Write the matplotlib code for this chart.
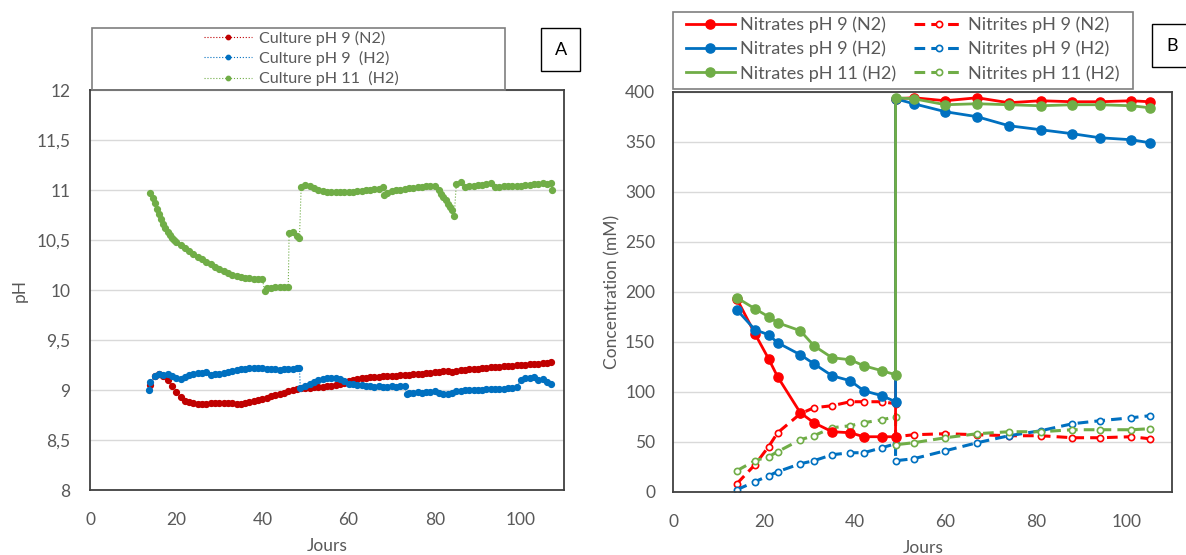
import matplotlib
matplotlib.use('Agg')
from matplotlib import pyplot as plt
from matplotlib.patches import Rectangle
from matplotlib.ticker import FuncFormatter, MultipleLocator

plt.rcParams['font.family'] = ['Lato', 'DejaVu Sans']

GREY = '#595959'
RED = '#FF0000'
DARK_RED = '#C00000'
BLUE = '#0070C0'
GREEN = '#70AD47'

# ---- panel A : pH follow-up ----
ph_labels = ['Culture pH 9 (N2)', 'Culture pH 9  (H2)', 'Culture pH 11  (H2)']

red_days = list(range(14, 108))
red_ph = [9.05, 9.14, 9.16, 9.14, 9.10, 9.04, 8.98, 8.93, 8.89, 8.88,
          8.87, 8.86, 8.86, 8.86, 8.87, 8.87, 8.87, 8.87, 8.87, 8.87,
          8.86, 8.86, 8.87, 8.88, 8.89, 8.90, 8.91, 8.92, 8.94, 8.95,
          8.96, 8.97, 8.99, 9.00, 9.01, 9.02, 9.02, 9.02, 9.03, 9.03,
          9.03, 9.04, 9.04, 9.05, 9.06, 9.07, 9.09, 9.10, 9.11, 9.12,
          9.12, 9.13, 9.13, 9.13, 9.14, 9.14, 9.14, 9.14, 9.15, 9.15,
          9.15, 9.16, 9.16, 9.16, 9.17, 9.17, 9.18, 9.18, 9.19, 9.19,
          9.18, 9.19, 9.20, 9.20, 9.21, 9.21, 9.21, 9.22, 9.22, 9.23,
          9.23, 9.23, 9.24, 9.24, 9.24, 9.25, 9.25, 9.25, 9.26, 9.26,
          9.26, 9.27, 9.27, 9.28]

blue_days = [13.8, 14, 15, 16, 17, 18, 19, 20, 21, 22, 23, 24, 25, 26, 27,
             28, 29, 30, 31, 32, 33, 34, 35, 36, 37, 38, 39, 40, 41, 42,
             43, 44, 45, 46, 47, 48, 48.6, 48.8, 50, 51, 52, 53, 54, 55,
             56, 57, 58, 59, 60, 61, 62, 63, 64, 65, 66, 67, 68, 69, 70,
             71, 72, 73, 73.5, 74, 75, 76, 77, 78, 79, 80, 81, 82, 83, 84,
             85, 86, 87, 88, 89, 90, 91, 92, 93, 94, 95, 96, 97, 98, 99,
             100, 101, 102, 103, 104, 105, 106, 107]
blue_ph = [9.00, 9.08, 9.14, 9.16, 9.15, 9.16, 9.14, 9.12, 9.11, 9.13, 9.15,
           9.16, 9.17, 9.17, 9.18, 9.15, 9.16, 9.16, 9.17, 9.18, 9.19, 9.20,
           9.21, 9.21, 9.22, 9.22, 9.22, 9.22, 9.21, 9.21, 9.21, 9.20, 9.21,
           9.21, 9.21, 9.22, 9.22, 9.02, 9.04, 9.06, 9.08, 9.10, 9.11, 9.12,
           9.12, 9.12, 9.11, 9.09, 9.06, 9.06, 9.05, 9.05, 9.04, 9.04, 9.03,
           9.04, 9.03, 9.03, 9.04, 9.03, 9.04, 9.04, 8.96, 8.97, 8.97, 8.98,
           8.97, 8.98, 8.98, 8.99, 8.97, 8.96, 8.96, 8.97, 8.99, 8.99, 9.00,
           9.00, 9.00, 9.00, 9.00, 9.01, 9.01, 9.01, 9.01, 9.01, 9.02, 9.02,
           9.03, 9.10, 9.12, 9.12, 9.13, 9.10, 9.11, 9.08, 9.06]

green_days = [14, 14.5, 15, 15.5, 16, 16.5, 17, 17.5, 18, 18.5, 19, 19.5,
              20, 21, 22, 23, 24, 25, 26, 27, 28,
              29, 30, 31, 32, 33, 34, 35, 36, 37, 38, 39, 40, 40.5, 41, 42,
              43, 44, 45, 46, 46.2, 47, 48, 48.6, 49, 50, 51, 52, 53, 54,
              55, 56, 57, 58, 59, 60, 61, 62, 63, 64, 65, 66, 67, 68, 68.2,
              69, 70, 71, 72, 73, 74, 75, 76, 77, 78, 79, 80, 81, 81.5, 82,
              82.5, 83, 83.5, 84, 84.5, 85, 86, 87, 88, 89, 90, 91, 92, 93,
              94, 95, 96, 97, 98, 99, 100, 101, 102, 103, 104, 105, 106,
              107, 107.3]
green_ph = [10.97, 10.92, 10.87, 10.81, 10.76, 10.71, 10.66, 10.62, 10.58,
            10.55, 10.52, 10.50, 10.48, 10.45, 10.42,
            10.39, 10.36, 10.33, 10.31, 10.28, 10.26, 10.23, 10.21, 10.19,
            10.17, 10.15, 10.14, 10.13, 10.12, 10.12, 10.11, 10.11, 10.11,
            9.99, 10.02, 10.02, 10.03, 10.03, 10.03, 10.03, 10.57, 10.58,
            10.54, 10.52, 11.03, 11.05, 11.04, 11.02, 11.00, 10.99, 10.98,
            10.98, 10.98, 10.98, 10.98, 10.98, 10.98, 10.99, 10.99, 11.00,
            11.00, 11.01, 11.01, 11.03, 10.95, 10.97, 10.99, 11.00, 11.00,
            11.01, 11.02, 11.02, 11.03, 11.03, 11.04, 11.04, 11.04, 11.00,
            10.96, 10.93, 10.90, 10.86, 10.83, 10.80, 10.74, 11.06, 11.08,
            11.03, 11.04, 11.04, 11.05, 11.05, 11.06, 11.07, 11.03, 11.03,
            11.04, 11.04, 11.04, 11.04, 11.04, 11.05, 11.05, 11.06, 11.06,
            11.07, 11.06, 11.07, 11.00]

# ---- panel B : nitrates / nitrites ----
sample_days = [14, 18, 21, 23, 28, 31, 35, 39, 42, 46, 49,
               49, 53, 60, 67, 74, 81, 88, 94, 101, 105]

nitrates_n2 = [193, 158, 133, 115, 79, 69, 60, 59, 55, 55, 55,
               393, 394, 391, 394, 389, 391, 390, 390, 391, 390]
nitrates_h2 = [182, 162, 157, 149, 137, 128, 116, 111, 101, 96, 90,
               393, 388, 380, 375, 366, 362, 358, 354, 352, 349]
nitrates_ph11 = [194, 183, 175, 169, 161, 146, 134, 132, 126, 121, 117,
                 394, 393, 387, 388, 387, 386, 387, 387, 386, 384]
nitrites_n2 = [8, 27, 45, 59, 78, 84, 86, 90, 90, 90, 88,
               55, 57, 58, 57, 56, 56, 54, 54, 55, 53]
nitrites_h2 = [2, 10, 16, 20, 28, 31, 37, 39, 39, 44, 48,
               31, 33, 41, 49, 56, 61, 68, 71, 74, 76]
nitrites_ph11 = [21, 31, 35, 40, 52, 56, 64, 66, 69, 72, 75,
                 47, 49, 54, 58, 60, 60, 62, 62, 62, 63]


def comma(v, pos):
    return ('%g' % v).replace('.', ',')


def style_axes(ax):
    ax.set_xlim(0, 110)
    ax.xaxis.set_major_locator(MultipleLocator(20))
    ax.grid(axis='y', color='#D9D9D9', lw=1)
    ax.set_axisbelow(True)
    ax.tick_params(length=0, labelsize=12.5, labelcolor=GREY)
    ax.tick_params(axis='x', pad=16)
    for s in ax.spines.values():
        s.set_color('#404040')
        s.set_linewidth(1.3)
    ax.set_xlabel('Jours', fontsize=12.5, color=GREY, labelpad=7)


def plot_ph(ax):
    for d, v, c, lab in zip([red_days, blue_days, green_days],
                            [red_ph, blue_ph, green_ph],
                            [DARK_RED, BLUE, GREEN], ph_labels):
        ax.plot(d, v, ls=':', lw=0.8, color=c, marker='o', ms=4.2,
                mec=c, mfc=c, label=lab)
    style_axes(ax)
    ax.set_ylim(8, 12)
    ax.yaxis.set_major_locator(MultipleLocator(0.5))
    ax.yaxis.set_major_formatter(FuncFormatter(comma))
    ax.tick_params(axis='y', pad=14)
    ax.set_ylabel('pH', fontsize=12.5, color=GREY, labelpad=6)


def plot_nitrogen(ax):
    series = [(nitrates_n2, RED, '-', 'Nitrates pH 9 (N2)'),
              (nitrates_h2, BLUE, '-', 'Nitrates pH 9 (H2)'),
              (nitrates_ph11, GREEN, '-', 'Nitrates pH 11 (H2)'),
              (nitrites_n2, RED, '--', 'Nitrites pH 9 (N2)'),
              (nitrites_h2, BLUE, '--', 'Nitrites pH 9 (H2)'),
              (nitrites_ph11, GREEN, '--', 'Nitrites pH 11 (H2)')]
    for vals, c, ls, lab in series:
        if ls == '-':
            ax.plot(sample_days, vals, ls=ls, lw=2, color=c, marker='o',
                    ms=6.6, mfc=c, mec=c, label=lab, zorder=3)
        else:
            ax.plot(sample_days, vals, ls=ls, lw=2.2, color=c, marker='o',
                    ms=4.5, mfc='white', mec=c, mew=1.2, label=lab,
                    dashes=(3.5, 2), zorder=2)
    style_axes(ax)
    ax.set_ylim(0, 400)
    ax.yaxis.set_major_locator(MultipleLocator(50))
    ax.tick_params(axis='y', pad=13)
    ax.set_ylabel('Concentration (mM)', fontsize=12.5, color=GREY,
                  labelpad=3)


fig = plt.figure(figsize=(11.86, 5.55), dpi=100)
ax_a = fig.add_axes([0.0759, 0.1171, 0.3997, 0.7207])
ax_b = fig.add_axes([0.5677, 0.1140, 0.4207, 0.7207])

plot_ph(ax_a)
plot_nitrogen(ax_b)

# legend A in its own box
fig.patches.append(Rectangle((0.0773, 0.8378), 0.3485, 0.1112,
                             transform=fig.transFigure, fill=False,
                             ec='#7F7F7F', lw=1.2, zorder=5))
h, l = ax_a.get_legend_handles_labels()
fig.legend(h, l, loc='upper center', bbox_to_anchor=(0.2540, 0.9590),
           frameon=False, fontsize=11.6, labelcolor=GREY, handlelength=3.0,
           handletextpad=0.45, labelspacing=0.32, borderpad=0,
           markerscale=0.75)

# legend B
fig.patches.append(Rectangle((0.5672, 0.8391), 0.3879, 0.1398,
                             transform=fig.transFigure, fill='white',
                             fc='white', ec='#7F7F7F', lw=1.2, zorder=5))
h, l = ax_b.get_legend_handles_labels()
fig.legend(h, l, loc='upper left', bbox_to_anchor=(0.5784, 0.9700),
           ncol=2, frameon=False, fontsize=13, labelcolor=GREY,
           handlelength=2.7, handletextpad=0.3, labelspacing=0.42,
           columnspacing=1.0, borderpad=0, borderaxespad=0)

fig.text(0.4726, 0.9108, 'A', fontsize=13, ha='center', va='center',
         bbox=dict(boxstyle='square,pad=0.75', fc='white', ec='black', lw=1))
fig.text(0.9880, 0.9180, 'B', fontsize=13, ha='center', va='center',
         bbox=dict(boxstyle='square,pad=0.75', fc='white', ec='black', lw=1))

fig.savefig('out.png', dpi=100)
